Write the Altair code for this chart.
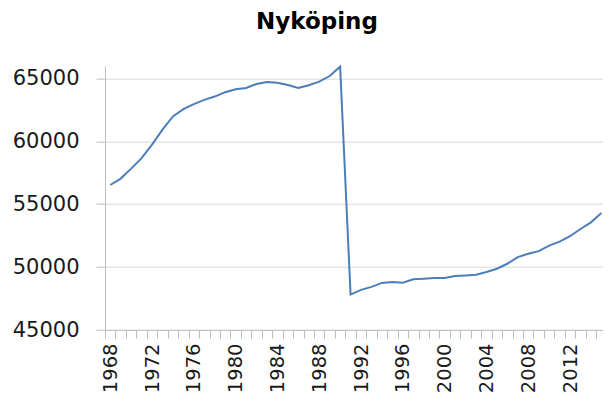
import altair as alt
import pandas as pd

years = list(range(1968, 2016))
population = [
    56520, 57030, 57820, 58655, 59735, 60920, 61970, 62553, 62948, 63287,
    63548, 63895, 64132, 64234, 64550, 64708, 64653, 64471, 64234, 64447,
    64735, 65180, 65916, 47817, 48187, 48424, 48740, 48819, 48764, 49025,
    49080, 49135, 49135, 49293, 49340, 49396, 49609, 49869, 50264, 50790,
    51053, 51266, 51708, 52024, 52450, 53027, 53555, 54290,
]
y_ticks = [45000, 50000, 55000, 60000, 65000]
x_ticks = [y - 0.5 for y in years]

df = pd.DataFrame({"year": years, "value": population})

FONT = "DejaVu Sans"
AXIS_GRAY = "#BFBFBF"
BAND = 10.45
PLOT_W = 498
X_MAX = 1967.5 + PLOT_W / BAND

chart = (
    alt.Chart(df)
    .mark_line(color="#4A7EBB", strokeWidth=2)
    .encode(
        x=alt.X(
            "year:Q",
            scale=alt.Scale(domain=[1967.5, X_MAX], nice=False, zero=False),
            axis=alt.Axis(
                values=x_ticks,
                title=None,
                grid=False,
                tickSize=8,
                tickColor=AXIS_GRAY,
                domainColor=AXIS_GRAY,
                labelAngle=-90,
                labelOffset=BAND / 2,
                labelPadding=5,
                labelFont=FONT,
                labelFontSize=19.5,
                labelColor="#1a1a1a",
                labelOverlap=False,
                labelFlush=False,
                labelBound=False,
                labelExpr="(datum.value + 0.5) % 4 == 0 && datum.value < 2015 ? format(datum.value + 0.5, 'd') : ''",
            ),
        ),
        y=alt.Y(
            "value:Q",
            scale=alt.Scale(domain=[45000, 66000], nice=False, zero=False),
            axis=alt.Axis(
                values=y_ticks,
                title=None,
                grid=True,
                gridColor="#D9D9D9",
                gridWidth=1,
                tickSize=9,
                tickColor=AXIS_GRAY,
                domainColor=AXIS_GRAY,
                labelPadding=17,
                labelFont=FONT,
                labelFontSize=21,
                labelColor="#1a1a1a",
                format="d",
            ),
        ),
    )
    .properties(
        width=PLOT_W,
        height=264.3,
        autosize=alt.AutoSizeParams(type="none"),
        padding={"left": 97, "top": 57.7, "right": 0, "bottom": 65},
        title=alt.TitleParams(
            "Nyköping",
            font=FONT,
            fontSize=23,
            fontWeight="bold",
            color="#000000",
            anchor="middle",
            baseline="alphabetic",
            offset=11,
            dx=-37,
        ),
    )
    .configure_view(strokeWidth=0)
)

chart.save("out.html", embed_options={"renderer": "svg", "actions": False})
